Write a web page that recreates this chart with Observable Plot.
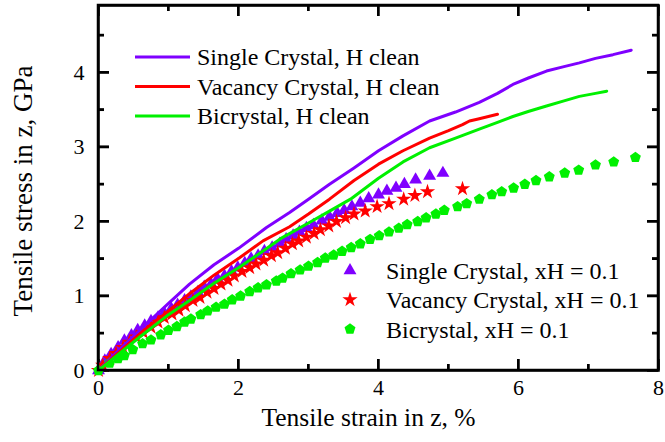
<!DOCTYPE html>
<html>
<head>
<meta charset="utf-8">
<script src="https://cdn.jsdelivr.net/npm/d3@7"></script>
<script src="https://cdn.jsdelivr.net/npm/@observablehq/plot@0.6"></script>
<style>
  body { margin: 0; background: #fff; }
</style>
</head>
<body>
<div id="chart"></div>
<script>
// Stress–strain curves (strain in %, stress in GPa)
const singleCleanStrain = [0, 0.3, 0.6, 1.0, 1.3, 1.65, 2.0, 2.4, 2.73, 3.0, 3.3, 3.65, 4.0, 4.35, 4.73, 5.1, 5.44, 5.7, 5.92, 6.15, 6.4, 6.65, 6.87, 7.1, 7.35, 7.61];
const singleCleanStress = [0, 0.28, 0.55, 0.9, 1.16, 1.42, 1.64, 1.92, 2.12, 2.3, 2.5, 2.72, 2.95, 3.15, 3.35, 3.47, 3.6, 3.72, 3.84, 3.93, 4.02, 4.08, 4.13, 4.19, 4.24, 4.3];

const vacancyCleanStrain = [0, 0.3, 0.59, 1.0, 1.3, 1.65, 2.01, 2.35, 2.73, 3.0, 3.3, 3.65, 4.0, 4.35, 4.73, 5.0, 5.2, 5.3, 5.44, 5.7];
const vacancyCleanStress = [0, 0.25, 0.49, 0.8, 1.03, 1.28, 1.51, 1.74, 1.93, 2.1, 2.3, 2.55, 2.77, 2.95, 3.12, 3.22, 3.3, 3.35, 3.38, 3.44];

const biCleanStrain = [0, 0.3, 0.59, 1.0, 1.3, 1.65, 2.0, 2.3, 2.6, 3.0, 3.3, 3.6, 4.0, 4.35, 4.73, 5.1, 5.44, 5.7, 5.92, 6.15, 6.4, 6.65, 6.87, 7.1, 7.26];
const biCleanStress = [0, 0.23, 0.45, 0.75, 0.94, 1.17, 1.38, 1.57, 1.77, 1.98, 2.14, 2.3, 2.58, 2.8, 2.99, 3.12, 3.24, 3.33, 3.41, 3.48, 3.55, 3.62, 3.68, 3.72, 3.75];

const singleHStrain = [0, 0.09, 0.18, 0.28, 0.37, 0.47, 0.56, 0.66, 0.75, 0.85, 0.94, 1.04, 1.13, 1.23, 1.32, 1.42, 1.51, 1.61, 1.70, 1.80, 1.90, 1.99, 2.09, 2.18, 2.28, 2.37, 2.48, 2.59, 2.68, 2.78, 2.87, 2.97, 3.07, 3.19, 3.30, 3.41, 3.51, 3.62, 3.74, 3.86, 4.00, 4.12, 4.25, 4.37, 4.53, 4.73, 4.92];
const singleHStress = [0, 0.13, 0.22, 0.31, 0.40, 0.47, 0.54, 0.60, 0.66, 0.71, 0.77, 0.83, 0.88, 0.94, 0.99, 1.05, 1.12, 1.16, 1.23, 1.27, 1.33, 1.38, 1.44, 1.50, 1.54, 1.60, 1.65, 1.70, 1.76, 1.81, 1.86, 1.91, 1.95, 2.01, 2.06, 2.11, 2.15, 2.20, 2.25, 2.31, 2.36, 2.41, 2.45, 2.50, 2.56, 2.61, 2.65];

const vacancyHStrain = [0, 0.06, 0.16, 0.25, 0.35, 0.44, 0.54, 0.64, 0.75, 0.85, 0.94, 1.05, 1.15, 1.24, 1.35, 1.45, 1.55, 1.65, 1.75, 1.85, 1.94, 2.05, 2.16, 2.25, 2.36, 2.47, 2.56, 2.67, 2.77, 2.86, 2.97, 3.08, 3.17, 3.29, 3.40, 3.53, 3.65, 3.81, 3.98, 4.15, 4.36, 4.52, 4.70, 5.20];
const vacancyHStress = [0, 0.07, 0.16, 0.23, 0.31, 0.38, 0.45, 0.51, 0.58, 0.65, 0.71, 0.76, 0.81, 0.87, 0.94, 0.98, 1.05, 1.10, 1.16, 1.21, 1.27, 1.33, 1.38, 1.43, 1.48, 1.54, 1.58, 1.64, 1.70, 1.74, 1.79, 1.84, 1.89, 1.94, 2.00, 2.05, 2.10, 2.14, 2.20, 2.24, 2.30, 2.35, 2.40, 2.44];

const biHStrain = [0, 0.16, 0.28, 0.37, 0.49, 0.63, 0.75, 0.89, 1.00, 1.12, 1.23, 1.32, 1.46, 1.56, 1.68, 1.80, 1.91, 2.03, 2.16, 2.28, 2.40, 2.54, 2.63, 2.75, 2.88, 3.00, 3.13, 3.24, 3.36, 3.48, 3.61, 3.74, 3.88, 4.01, 4.15, 4.29, 4.41, 4.56, 4.68, 4.82, 4.94, 5.13, 5.26, 5.44, 5.62, 5.76, 5.93, 6.09, 6.25, 6.44, 6.66, 6.86, 7.10, 7.36, 7.67];
const biHStress = [0, 0.10, 0.16, 0.20, 0.28, 0.36, 0.41, 0.48, 0.54, 0.59, 0.65, 0.69, 0.75, 0.80, 0.85, 0.89, 0.95, 1.00, 1.06, 1.11, 1.15, 1.20, 1.24, 1.30, 1.35, 1.40, 1.45, 1.51, 1.55, 1.60, 1.65, 1.70, 1.76, 1.81, 1.86, 1.91, 1.96, 2.00, 2.05, 2.10, 2.15, 2.20, 2.24, 2.30, 2.36, 2.40, 2.45, 2.50, 2.55, 2.60, 2.65, 2.69, 2.76, 2.80, 2.86];

const xDomain = [0, 8];
const yDomain = [0, 4.9];
const xMajorTicks = [0, 2, 4, 6, 8];
const xMinorTicks = [1, 3, 5, 7];
const yMajorTicks = [0, 1, 2, 3, 4];
const yMinorTicks = [0.5, 1.5, 2.5, 3.5, 4.5];

const lineLabels = ["Single Crystal, H clean", "Vacancy Crystal, H clean", "Bicrystal, H clean"];
const dotLabels = ["Single Crystal, xH = 0.1", "Vacancy Crystal, xH = 0.1", "Bicrystal, xH = 0.1"];
const xTitle = "Tensile strain in z, %";
const yTitle = "Tensile stress in z, GPa";

const purple = "#7f00ff", red = "#ff0000", green = "#00f000";

// regular pentagon marker
const pentagon = {
  draw(context, size) {
    const r = Math.sqrt(size / (2.5 * Math.sin(2 * Math.PI / 5)));
    for (let i = 0; i < 5; i++) {
      const a = -Math.PI / 2 + i * 2 * Math.PI / 5;
      const x = r * Math.cos(a), y = r * Math.sin(a);
      if (i) context.lineTo(x, y); else context.moveTo(x, y);
    }
    context.closePath();
  }
};

const zip = (xs, ys) => xs.map((x, i) => ({x, y: ys[i]}));
const lines = [
  {data: zip(singleCleanStrain, singleCleanStress), color: purple},
  {data: zip(vacancyCleanStrain, vacancyCleanStress), color: red},
  {data: zip(biCleanStrain, biCleanStress), color: green}
];
const dots = [
  {data: zip(singleHStrain, singleHStress), color: purple, symbol: d3.symbolTriangle, r: 4.8},
  {data: zip(vacancyHStrain, vacancyHStress), color: red, symbol: d3.symbolStar, r: 4.8},
  {data: zip(biHStrain, biHStress), color: green, symbol: pentagon, r: 5}
];

const W = 665, H = 442, mL = 98, mR = 7, mT = 5, mB = 72;
const innerW = W - mL - mR, innerH = H - mT - mB;
const majorLen = 11, minorLen = 6;
const tickStyle = {stroke: "#000", strokeWidth: 2.5};

const chart = Plot.plot({
  width: W,
  height: H,
  marginLeft: mL,
  marginRight: mR,
  marginTop: mT,
  marginBottom: mB,
  x: {domain: xDomain},
  y: {domain: yDomain},
  style: {fontFamily: "Liberation Serif"},
  marks: [
    // box around the plot area and inward ticks on all four sides
    Plot.frame({stroke: "#000", strokeWidth: 2.5}),
    Plot.ruleX(xMajorTicks, {x: d => d, insetTop: innerH - majorLen, ...tickStyle}),
    Plot.ruleX(xMinorTicks, {x: d => d, insetTop: innerH - minorLen, ...tickStyle}),
    Plot.ruleX(xMajorTicks, {x: d => d, insetBottom: innerH - majorLen, ...tickStyle}),
    Plot.ruleX(xMinorTicks, {x: d => d, insetBottom: innerH - minorLen, ...tickStyle}),
    Plot.ruleY(yMajorTicks, {y: d => d, insetRight: innerW - majorLen, ...tickStyle}),
    Plot.ruleY(yMinorTicks, {y: d => d, insetRight: innerW - minorLen, ...tickStyle}),
    Plot.ruleY(yMajorTicks, {y: d => d, insetLeft: innerW - majorLen, ...tickStyle}),
    Plot.ruleY(yMinorTicks, {y: d => d, insetLeft: innerW - minorLen, ...tickStyle}),
    // data
    ...dots.map(d => Plot.dot(d.data, {x: "x", y: "y", symbol: () => d.symbol, fill: d.color, stroke: "none", r: d.r})),
    ...lines.map(l => Plot.line(l.data, {x: "x", y: "y", stroke: l.color, strokeWidth: 3})),
    // tick labels
    Plot.axisX(xMajorTicks, {anchor: "bottom", tickSize: 0, tickPadding: 9, tickFormat: d => d, label: null, fontSize: 22, fill: "black"}),
    Plot.axisY(yMajorTicks, {anchor: "left", tickSize: 0, tickPadding: 14, tickFormat: d => d, label: null, fontSize: 22, fill: "black"}),
    // axis titles
    Plot.text([xTitle], {frameAnchor: "bottom", dx: -10, dy: 55, text: d => d, fontSize: 25.5, fill: "black"}),
    Plot.text([yTitle], {frameAnchor: "left", textAnchor: "middle", dx: -75, dy: 3, rotate: -90, text: d => d, fontSize: 27, fill: "black"})
  ]
});
document.getElementById("chart").append(chart);

const svg = d3.select(chart);

// same box and ticks again on top of the data, positioned from the plot's scales
const xs = chart.scale("x"), ys = chart.scale("y");
const fx = d3.scaleLinear(xs.domain, xs.range), fy = d3.scaleLinear(ys.domain, ys.range);
const over = svg.append("g").attr("stroke", "#000").attr("fill", "none");
const seg = (a, b, c, d, w) => over.append("line")
  .attr("x1", a).attr("y1", b).attr("x2", c).attr("y2", d).attr("stroke-width", w);
const X0 = fx(xDomain[0]), X1 = fx(xDomain[1]), Y0 = fy(yDomain[0]), Y1 = fy(yDomain[1]);
[[xMajorTicks, majorLen], [xMinorTicks, minorLen]].forEach(([ts, len]) => ts.forEach(t => {
  seg(fx(t), Y0, fx(t), Y0 - len, 2);
  seg(fx(t), Y1, fx(t), Y1 + len, 2);
}));
[[yMajorTicks, majorLen], [yMinorTicks, minorLen]].forEach(([ts, len]) => ts.forEach(t => {
  seg(X0, fy(t), X0 + len, fy(t), 2);
  seg(X1, fy(t), X1 - len, fy(t), 2);
}));
over.append("rect").attr("x", X0).attr("y", Y1).attr("width", X1 - X0).attr("height", Y0 - Y1)
  .attr("stroke-width", 2.5);

// legends drawn on top of the plot area
const addText = (g, x, y, s) => g.append("text")
  .attr("x", x).attr("y", y).attr("dy", "0.35em").attr("fill", "black")
  .style("font-size", "24px").style("font-family", "Liberation Serif").style("text-anchor", "start")
  .text(s);
const legendTop = svg.append("g");
lines.forEach((l, i) => {
  const y = 57 + i * 29.5;
  legendTop.append("line").attr("x1", 135).attr("x2", 190).attr("y1", y).attr("y2", y)
    .attr("stroke", l.color).attr("stroke-width", 3);
  addText(legendTop, 197, y, lineLabels[i]);
});
const legendBottom = svg.append("g");
dots.forEach((d, i) => {
  const y = 270.5 + i * 29.3;
  legendBottom.append("path")
    .attr("d", d3.symbol(d.symbol, Math.PI * d.r * d.r)())
    .attr("transform", `translate(350,${y})`).attr("fill", d.color);
  addText(legendBottom, 386, y, dotLabels[i]);
});
</script>
</body>
</html>
